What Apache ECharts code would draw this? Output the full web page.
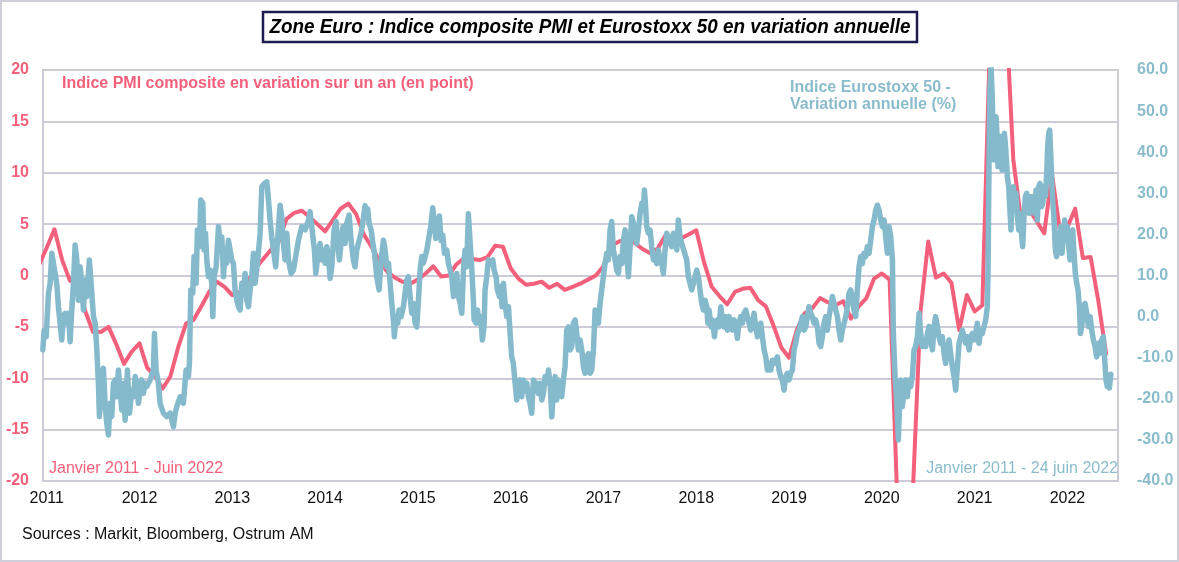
<!DOCTYPE html>
<html>
<head>
<meta charset="utf-8">
<script src="https://cdn.jsdelivr.net/npm/echarts@6/dist/echarts.min.js"></script>
<style>
html,body{margin:0;padding:0;background:#fff;}
#chart{width:1179px;height:562px;}
</style>
</head>
<body>
<div id="chart"></div>
<script>
// ---------------- DATA ----------------
const titleText = 'Zone Euro : Indice composite PMI et Eurostoxx 50 en variation annuelle';
const yearLabels = [2011, 2012, 2013, 2014, 2015, 2016, 2017, 2018, 2019, 2020, 2021, 2022];
const leftTicks = [-20, -15, -10, -5, 0, 5, 10, 15, 20];
const rightTicks = [-40, -30, -20, -10, 0, 10, 20, 30, 40, 50, 60];

// PMI composite, annual change (points), monthly from Dec 2010 to Jun 2022
const pmiStart = { year: 2010, month: 12 };
const pmiValues = [
  1.0,
  2.7, 4.5, 1.5, -0.5, -0.8, -3.5, -5.5, -5.5, -5.0, -6.7, -8.6, -7.4,
  -6.6, -9.0, -9.8, -11.0, -9.8, -7.0, -4.7, -4.3, -3.0, -1.6, -0.6, -1.1,
  -1.9, -1.6, -0.6, 0.7, 1.6, 2.5, 3.3, 5.5, 6.1, 6.3, 5.7, 5.0,
  4.3, 5.4, 6.5, 7.0, 6.0, 4.0, 2.8, 1.5, 0.4, -0.2, -0.6, -0.8,
  -0.4, 0.2, 0.9, -0.1, 0.0, 1.1, 1.7, 1.6, 1.5, 1.8, 2.9, 2.8,
  0.7, -0.3, -0.9, -0.8, -0.6, -1.2, -0.8, -1.4, -1.1, -0.8, -0.4, 0.0,
  0.9, 2.9, 3.3, 3.6, 3.2, 2.6, 2.2, 2.6, 3.9, 3.1, 3.6, 4.0,
  4.4, 1.3, -1.1, -2.0, -2.8, -1.6, -1.3, -1.2, -2.4, -3.0, -4.9, -7.0,
  -8.0, -5.3, -3.7, -3.2, -2.2, -2.6, -2.9, -2.5, -4.2, -3.0, -2.2, -0.3,
  0.2, -0.4, -21.9, -37.9, -21.3, -3.5, 3.3, -0.2, 0.2, -0.7, -5.3, -1.9,
  -3.5, -2.9, 23.5, 40.2, 26.6, 11.3, 5.4, 6.5, 5.3, 4.1, 9.9, 4.5,
  4.7, 6.5, 1.7, 1.8, -2.5, -7.6
];

// Eurostoxx 50, annual change (%), [time in years, value]
const stoxx = [
[2010.958,-8.1],[2010.972,-3.3],[2010.994,-4.9],[2011.019,5.7],[2011.037,8.1],[2011.055,15.4],[2011.073,12.9],[2011.090,10.5],[2011.108,8.1],[2011.126,2.4],[2011.144,-1.6],[2011.162,-5.7],[2011.180,0.0],[2011.198,0.8],[2011.216,-1.6],[2011.234,0.8],[2011.252,-6.1],[2011.270,1.6],[2011.288,8.1],[2011.306,17.4],[2011.324,13.8],[2011.342,4.0],[2011.360,12.1],[2011.378,8.1],[2011.396,1.6],[2011.414,8.9],[2011.432,4.9],[2011.460,13.8],[2011.486,5.7],[2011.504,0.0],[2011.522,-1.6],[2011.540,-8.1],[2011.557,-16.2],[2011.568,-24.3],[2011.593,-16.2],[2011.611,-12.6],[2011.629,-21.1],[2011.647,-26.0],[2011.665,-28.8],[2011.683,-21.1],[2011.701,-24.3],[2011.719,-16.2],[2011.737,-15.4],[2011.755,-19.5],[2011.773,-13.0],[2011.791,-17.9],[2011.809,-22.7],[2011.827,-16.2],[2011.845,-25.2],[2011.870,-13.0],[2011.892,-23.5],[2011.917,-17.9],[2011.935,-19.5],[2011.953,-14.6],[2011.971,-16.2],[2011.988,-21.1],[2012.006,-17.9],[2012.024,-15.4],[2012.042,-18.7],[2012.060,-16.2],[2012.078,-17.0],[2012.114,-15.4],[2012.150,-13.0],[2012.161,-4.1],[2012.179,-13.0],[2012.204,-16.2],[2012.222,-21.1],[2012.258,-23.5],[2012.294,-24.3],[2012.330,-23.5],[2012.366,-26.8],[2012.384,-23.5],[2012.402,-21.9],[2012.438,-19.5],[2012.473,-21.1],[2012.502,-13.0],[2012.527,-14.6],[2012.538,-11.4],[2012.553,6.5],[2012.574,5.7],[2012.588,14.6],[2012.610,8.1],[2012.624,21.1],[2012.646,17.0],[2012.660,28.4],[2012.682,27.6],[2012.696,16.2],[2012.711,20.3],[2012.725,13.8],[2012.743,9.7],[2012.761,11.3],[2012.779,8.1],[2012.790,0.0],[2012.804,9.7],[2012.826,12.1],[2012.851,21.9],[2012.869,17.8],[2012.887,19.4],[2012.905,9.7],[2012.922,16.2],[2012.940,13.0],[2012.958,18.6],[2012.976,16.2],[2012.994,13.8],[2013.012,13.0],[2013.030,6.5],[2013.048,4.0],[2013.066,2.4],[2013.084,1.6],[2013.102,8.1],[2013.120,6.5],[2013.138,10.5],[2013.156,4.0],[2013.174,2.4],[2013.192,6.5],[2013.210,9.7],[2013.228,15.4],
[2013.246,8.1],[2013.274,13.8],[2013.300,20.3],[2013.318,31.6],[2013.346,32.4],[2013.372,32.8],[2013.390,28.4],[2013.407,23.5],[2013.425,19.4],[2013.443,16.2],[2013.468,12.1],[2013.490,19.4],[2013.515,27.1],[2013.533,24.3],[2013.551,17.8],[2013.569,13.8],[2013.587,20.3],[2013.605,13.8],[2013.634,10.5],[2013.659,11.3],[2013.677,13.8],[2013.695,16.2],[2013.713,18.6],[2013.749,21.9],[2013.785,21.1],[2013.821,23.5],[2013.838,25.5],[2013.864,20.3],[2013.885,16.2],[2013.900,10.5],[2013.921,14.6],[2013.946,17.8],[2013.964,13.8],[2013.982,16.2],[2014.000,13.0],[2014.018,17.0],[2014.036,14.6],[2014.054,9.3],[2014.072,12.1],[2014.097,21.1],[2014.119,23.1],[2014.136,17.8],[2014.154,13.8],[2014.172,17.8],[2014.194,21.9],[2014.216,17.8],[2014.234,22.7],[2014.259,24.7],[2014.280,18.6],[2014.305,13.8],[2014.323,12.1],[2014.341,16.2],[2014.359,17.8],[2014.388,20.3],[2014.410,23.5],[2014.431,27.0],[2014.445,24.3],[2014.460,26.2],[2014.474,22.7],[2014.496,21.1],[2014.510,18.6],[2014.532,15.4],[2014.557,9.7],[2014.582,6.5],[2014.604,13.8],[2014.629,18.6],[2014.647,16.2],[2014.665,12.1],[2014.683,13.0],[2014.701,8.1],[2014.719,3.2],[2014.736,-0.8],[2014.747,-4.9],[2014.762,0.0],[2014.783,-1.6],[2014.797,1.6],[2014.819,0.0],[2014.844,2.4],[2014.862,5.7],[2014.880,8.9],[2014.898,9.7],[2014.916,4.9],[2014.934,0.8],[2014.952,3.2],[2014.970,-1.6],[2014.988,-2.5],[2015.006,4.0],[2015.024,11.3],[2015.042,14.6],[2015.060,13.0],[2015.078,14.6],[2015.096,16.2],[2015.114,18.6],[2015.139,22.0],[2015.160,26.5],[2015.175,23.5],[2015.193,19.0],[2015.214,21.4],[2015.232,24.5],[2015.250,18.5],[2015.268,19.8],[2015.286,15.4],[2015.311,16.2],[2015.329,13.0],[2015.347,11.3],[2015.365,9.7],[2015.383,4.9],[2015.401,7.3],[2015.419,10.5],[2015.437,4.9],[2015.455,3.2],[2015.473,0.8],[2015.491,11.3],[2015.508,16.2],[2015.526,12.1],[2015.544,25.0],
[2015.580,12.1],[2015.598,4.0],[2015.606,-0.8],[2015.627,-1.6],[2015.642,1.6],[2015.660,-1.6],[2015.677,0.0],[2015.695,-5.7],[2015.713,-2.5],[2015.724,6.5],[2015.742,9.7],[2015.760,13.8],[2015.785,12.9],[2015.807,13.8],[2015.821,11.3],[2015.843,9.7],[2015.857,6.5],[2015.879,4.9],[2015.893,7.3],[2015.907,2.4],[2015.922,8.1],[2015.940,3.2],[2015.958,0.0],[2015.976,2.4],[2015.994,-4.1],[2016.011,-9.8],[2016.029,-11.4],[2016.048,-16.2],[2016.065,-20.3],[2016.083,-17.9],[2016.101,-15.4],[2016.119,-19.5],[2016.137,-15.4],[2016.155,-17.9],[2016.173,-16.2],[2016.191,-19.5],[2016.209,-21.1],[2016.227,-23.5],[2016.245,-15.4],[2016.263,-17.0],[2016.281,-16.2],[2016.299,-18.7],[2016.317,-16.2],[2016.335,-20.3],[2016.353,-18.7],[2016.371,-14.6],[2016.389,-16.2],[2016.407,-13.0],[2016.425,-16.2],[2016.443,-24.4],[2016.461,-17.9],[2016.479,-14.6],[2016.496,-20.3],[2016.514,-15.4],[2016.532,-16.2],[2016.550,-19.5],[2016.568,-15.4],[2016.586,-12.2],[2016.604,-3.3],[2016.622,-2.5],[2016.640,-8.1],[2016.658,-7.3],[2016.676,-1.6],[2016.694,-0.8],[2016.712,-4.1],[2016.730,-8.1],[2016.748,-5.7],[2016.766,-8.1],[2016.784,-12.2],[2016.802,-13.8],[2016.820,-9.8],[2016.838,-9.0],[2016.856,-13.8],[2016.874,-13.0],[2016.892,-8.1],[2016.910,1.6],[2016.927,0.8],[2016.945,-1.6],[2016.963,3.2],[2016.981,6.5],[2016.999,9.7],[2017.017,12.9],[2017.035,15.4],[2017.053,13.8],[2017.071,21.1],[2017.089,23.1],[2017.107,16.2],[2017.125,13.8],[2017.143,11.3],[2017.161,10.5],[2017.179,14.6],[2017.197,12.9],[2017.215,18.6],[2017.233,21.1],[2017.251,14.6],[2017.269,9.7],[2017.287,17.0],[2017.305,24.3],[2017.323,22.7],[2017.341,19.4],[2017.359,17.8],[2017.377,21.1],[2017.395,25.1],[2017.413,27.6],[2017.431,25.9],[2017.441,30.8],[2017.452,27.6],[2017.466,21.9],[2017.484,20.3],[2017.502,21.1],[2017.520,17.0],[2017.538,13.8],[2017.556,14.6],[2017.574,12.9],[2017.592,16.2],[2017.610,13.8],[2017.628,12.9],[2017.646,10.5],[2017.664,16.2],[2017.682,20.3],[2017.700,17.8],[2017.718,19.4],[2017.736,17.0],[2017.754,20.3],[2017.772,19.4],[2017.790,16.2],[2017.807,23.5],[2017.825,19.4],[2017.843,17.8],
[2017.897,13.8],[2017.915,9.7],[2017.933,8.1],[2017.951,6.5],[2017.969,8.1],[2017.987,9.7],[2018.005,11.3],[2018.023,9.7],[2018.041,6.5],[2018.059,3.2],[2018.077,1.6],[2018.095,4.0],[2018.113,2.4],[2018.124,-1.6],[2018.138,1.6],[2018.160,-2.5],[2018.174,-0.8],[2018.196,-4.9],[2018.210,-1.6],[2018.228,-0.8],[2018.246,-2.5],[2018.264,2.4],[2018.282,-0.8],[2018.300,-2.5],[2018.318,0.0],[2018.336,-3.3],[2018.354,0.0],[2018.372,-1.6],[2018.390,-3.3],[2018.408,-0.8],[2018.425,-1.6],[2018.443,-5.3],[2018.461,-1.6],[2018.479,0.0],[2018.497,-1.6],[2018.515,0.8],[2018.533,1.6],[2018.551,0.0],[2018.569,-1.6],[2018.587,-3.3],[2018.605,-1.6],[2018.623,0.8],[2018.641,-2.5],[2018.659,-4.9],[2018.677,-3.3],[2018.695,-1.6],[2018.713,-4.9],[2018.731,-8.1],[2018.749,-9.8],[2018.767,-13.0],[2018.785,-11.4],[2018.803,-13.0],[2018.821,-10.6],[2018.838,-11.4],[2018.856,-10.6],[2018.874,-9.8],[2018.892,-13.0],[2018.910,-14.6],[2018.928,-15.4],[2018.946,-17.9],[2018.964,-14.6],[2018.982,-13.8],[2019.000,-15.4],[2019.018,-13.8],[2019.036,-13.0],[2019.054,-8.1],[2019.072,-6.5],[2019.090,-4.1],[2019.108,-3.3],[2019.126,-1.6],[2019.144,0.0],[2019.162,-3.3],[2019.180,-2.5],[2019.198,0.0],[2019.215,2.4],[2019.233,0.8],[2019.251,0.0],[2019.269,-1.6],[2019.287,-0.8],[2019.305,-2.5],[2019.323,-6.5],[2019.341,-7.3],[2019.359,-4.9],[2019.377,-1.6],[2019.395,0.0],[2019.413,-3.3],[2019.431,0.0],[2019.449,2.4],[2019.467,4.9],[2019.485,3.2],[2019.503,1.6],[2019.521,0.0],[2019.539,-3.3],[2019.557,-5.7],[2019.575,-3.3],[2019.593,-1.6],[2019.611,0.0],[2019.629,2.4],[2019.647,5.7],[2019.664,6.5],[2019.682,4.9],[2019.700,1.6],[2019.718,0.0],[2019.736,6.5],[2019.754,12.1],[2019.772,14.6],[2019.790,12.9],[2019.808,15.4],[2019.826,14.6],[2019.844,17.0],[2019.862,15.4],[2019.880,18.6],[2019.898,21.9],[2019.916,23.5],[2019.934,25.9],[2019.952,27.1],[2019.970,25.9],[2019.988,23.5],[2020.006,21.9],[2020.024,23.5],[2020.042,19.4],[2020.060,15.4],[2020.078,21.9],[2020.096,19.4],[2020.114,13.8],
[2020.124,-4.1],[2020.142,-14.6],[2020.160,-20.3],[2020.178,-30.0],[2020.189,-22.7],[2020.203,-15.4],[2020.221,-21.9],[2020.239,-17.9],[2020.257,-15.4],[2020.275,-19.5],[2020.293,-15.4],[2020.311,-17.0],[2020.329,-14.6],[2020.347,-8.1],[2020.365,-7.3],[2020.383,-4.9],[2020.401,0.8],[2020.419,-4.1],[2020.437,-7.3],[2020.455,-5.7],[2020.473,-7.3],[2020.491,-4.1],[2020.509,-2.4],[2020.527,-5.7],[2020.545,-8.1],[2020.563,-2.4],[2020.580,0.0],[2020.598,-2.4],[2020.616,-4.9],[2020.634,-6.5],[2020.652,-4.9],[2020.670,-9.0],[2020.688,-11.4],[2020.706,-8.1],[2020.724,-5.7],[2020.742,-9.0],[2020.760,-12.2],[2020.778,-14.6],[2020.796,-17.9],[2020.814,-12.2],[2020.832,-6.5],[2020.850,-4.9],[2020.868,-3.3],[2020.886,-4.9],[2020.904,-6.5],[2020.922,-4.9],[2020.940,-8.1],[2020.958,-4.9],[2020.976,-4.1],[2020.994,-5.7],[2021.011,-4.1],[2021.029,-1.6],[2021.047,-6.5],[2021.065,-3.3],[2021.083,-4.1],[2021.101,-2.4],[2021.119,-0.8],[2021.137,2.4],
[2021.145,12.1],[2021.152,30.0],[2021.159,46.2],[2021.166,55.9],[2021.177,61.0],[2021.188,54.3],[2021.198,46.2],[2021.209,38.1],[2021.220,46.2],[2021.231,48.6],[2021.242,43.8],[2021.252,36.5],[2021.263,42.1],[2021.274,43.8],[2021.285,39.7],[2021.295,35.7],[2021.306,41.3],[2021.320,44.6],[2021.331,42.1],[2021.342,38.1],[2021.353,34.0],[2021.367,31.6],[2021.382,25.1],[2021.392,21.1],[2021.403,28.4],[2021.418,31.6],[2021.432,27.5],[2021.446,30.0],[2021.461,24.3],[2021.475,21.1],[2021.489,25.1],[2021.504,20.3],[2021.518,17.0],[2021.532,24.3],[2021.547,29.2],[2021.561,30.0],[2021.576,27.5],[2021.590,25.1],[2021.604,29.2],[2021.619,26.7],[2021.633,29.2],[2021.647,25.1],[2021.662,30.8],[2021.676,23.5],[2021.690,31.6],[2021.705,32.4],[2021.719,26.7],[2021.734,27.5],[2021.748,31.6],[2021.762,29.2],[2021.777,34.9],[2021.787,41.3],[2021.798,44.6],[2021.809,45.4],[2021.820,39.7],[2021.830,33.2],[2021.841,28.4],[2021.856,23.5],[2021.870,16.2],[2021.884,14.6],[2021.899,20.3],[2021.913,17.0],[2021.927,21.9],[2021.942,15.4],[2021.956,20.3],[2021.971,23.5],[2021.985,18.6],[2021.999,21.9],[2022.014,17.0],[2022.028,13.8],[2022.042,17.0],[2022.057,21.1],[2022.071,15.4],[2022.085,10.5],[2022.100,8.1],[2022.114,6.5],[2022.129,2.4],[2022.140,-4.1],[2022.154,-2.4],[2022.172,2.4],[2022.190,3.2],[2022.208,0.8],[2022.225,-2.4],[2022.244,0.0],[2022.262,-3.3],[2022.280,-5.7],[2022.297,-7.3],[2022.315,-9.8],[2022.334,-6.5],[2022.351,-8.9],[2022.369,-5.7],[2022.387,-4.9],[2022.402,-10.6],[2022.416,-15.4],[2022.430,-17.0],[2022.441,-14.6],[2022.452,-17.4],[2022.468,-14.0]
];

// ---------------- CHART ----------------
const PINK = '#f3607b';
const BLUE_LINE = '#85bacc';
const BLUE_TEXT = '#8abccc';
const GRID = '#cdcbd8';
const FONT = '"Liberation Sans", Arial, sans-serif';

const pmiData = pmiValues.map((v, i) => [pmiStart.year + (pmiStart.month - 1 + i) / 12, v]);

// measure title for condensed look
const cv = document.createElement('canvas').getContext('2d');
const titleFont = 'italic bold 21px ' + FONT;
cv.font = titleFont;
const titleScale = 641 / cv.measureText(titleText).width;

const chart = echarts.init(document.getElementById('chart'), null, { renderer: 'canvas' });
chart.setOption({
  animation: false,
  backgroundColor: '#fff',
  textStyle: { fontFamily: FONT },
  grid: { left: 43, right: 61, top: 70, bottom: 81, show: true, borderColor: GRID, borderWidth: 2, backgroundColor: 'transparent' },
  xAxis: {
    type: 'value',
    min: 2010.96,
    max: 2022.545,
    axisLine: { show: false },
    axisTick: { show: false },
    splitLine: { show: false },
    axisLabel: {
      customValues: yearLabels,
      formatter: v => String(Math.round(v)),
      color: '#111', fontSize: 16, margin: 10, fontFamily: FONT
    }
  },
  yAxis: [
    {
      type: 'value', position: 'left',
      min: leftTicks[0], max: leftTicks[leftTicks.length - 1], interval: 5,
      axisLine: { show: false }, axisTick: { show: false },
      splitLine: { show: true, lineStyle: { color: GRID, width: 2 } },
      axisLabel: { color: PINK, fontWeight: 'bold', fontSize: 16, margin: 14, fontFamily: FONT }
    },
    {
      type: 'value', position: 'right',
      min: rightTicks[0], max: rightTicks[rightTicks.length - 1], interval: 10,
      axisLine: { show: false }, axisTick: { show: false },
      splitLine: { show: false },
      axisLabel: { color: BLUE_TEXT, fontWeight: 'bold', fontSize: 16, margin: 19, fontFamily: FONT,
        formatter: v => v.toFixed(1) }
    }
  ],
  series: [
    {
      name: 'PMI', type: 'line', yAxisIndex: 0, data: pmiData,
      showSymbol: false, symbol: 'none', silent: true, clip: true, z: 2,
      lineStyle: { color: PINK, width: 4, join: 'round', cap: 'round' }
    },
    {
      name: 'Eurostoxx 50', type: 'line', yAxisIndex: 1, data: stoxx,
      showSymbol: false, symbol: 'none', silent: true, clip: true, z: 3,
      lineStyle: { color: BLUE_LINE, width: 5.5, join: 'round', cap: 'round' }
    }
  ],
  graphic: [
    { type: 'rect', shape: { x: 1, y: 1, width: 1177, height: 560 }, style: { fill: 'none', stroke: '#cfcfdc', lineWidth: 2 }, silent: true, z: 100 },
    { type: 'rect', shape: { x: 263, y: 12, width: 654, height: 30 }, style: { fill: '#fff', stroke: '#1f1b4e', lineWidth: 2.5 }, silent: true, z: 100 },
    { type: 'text', x: 590, y: 27.5, scaleX: titleScale, silent: true, z: 101,
      style: { text: titleText, font: titleFont, fill: '#000', textAlign: 'center', textVerticalAlign: 'middle' } },
    { type: 'text', x: 62, y: 84, silent: true, z: 101,
      style: { text: 'Indice PMI composite en variation sur un an (en point)', font: 'bold 16px ' + FONT, fill: PINK, textAlign: 'left', textVerticalAlign: 'middle' } },
    { type: 'text', x: 790, y: 79, silent: true, z: 101,
      style: { text: 'Indice Eurostoxx 50 -\nVariation annuelle (%)', font: 'bold 16px ' + FONT, lineHeight: 17, fill: BLUE_TEXT, textAlign: 'left', textVerticalAlign: 'top' } },
    { type: 'text', x: 49, y: 469, silent: true, z: 101,
      style: { text: 'Janvier 2011 - Juin 2022', font: '16px ' + FONT, fill: PINK, textAlign: 'left', textVerticalAlign: 'middle' } },
    { type: 'text', x: 1118, y: 469, silent: true, z: 101,
      style: { text: 'Janvier 2011 - 24 juin 2022', font: '16px ' + FONT, fill: BLUE_TEXT, textAlign: 'right', textVerticalAlign: 'middle' } },
    { type: 'text', x: 22, y: 535, silent: true, z: 101,
      style: { text: 'Sources : Markit, Bloomberg, Ostrum AM', font: '16px ' + FONT, fill: '#111', textAlign: 'left', textVerticalAlign: 'middle' } }
  ]
});
</script>
</body>
</html>
